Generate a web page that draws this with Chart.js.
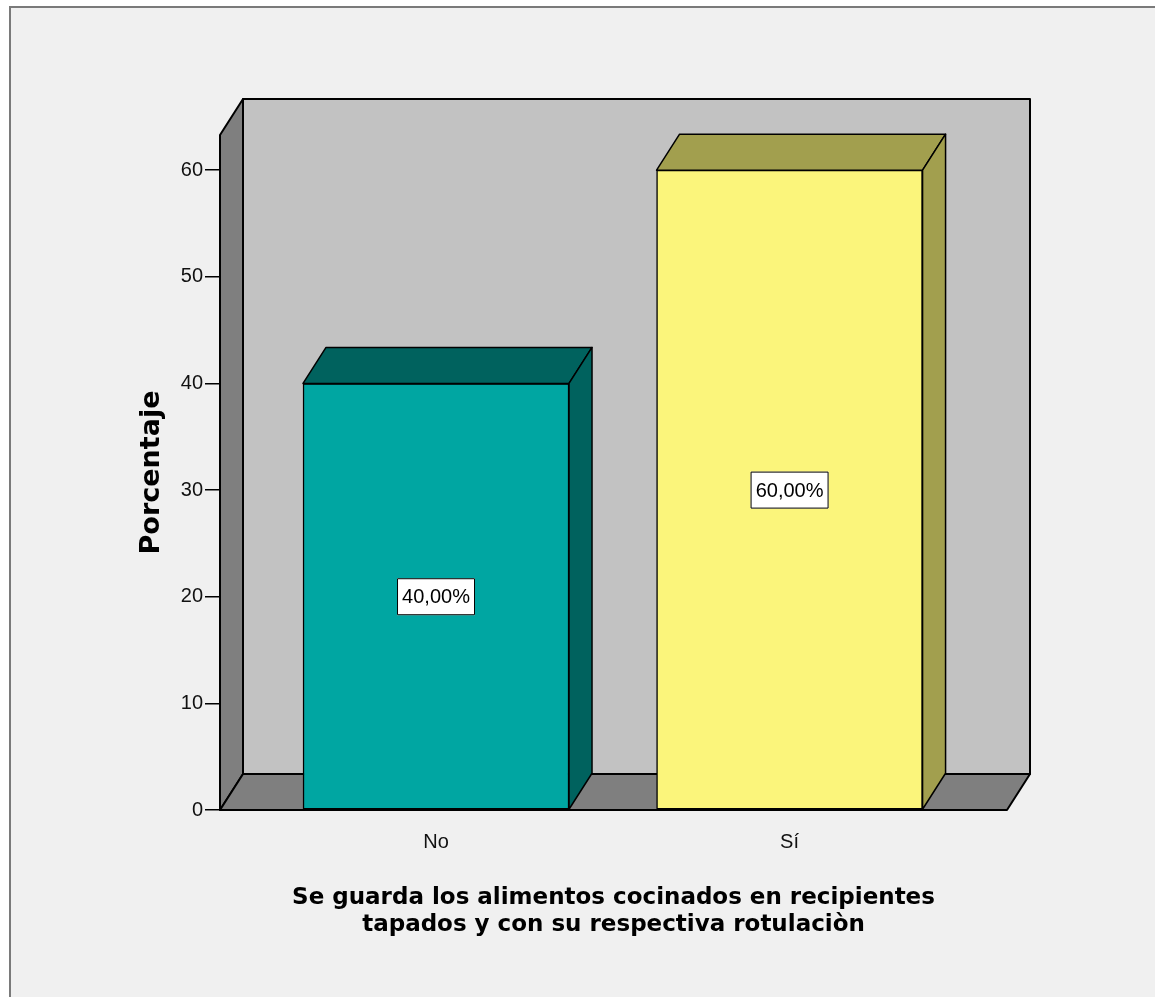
<!DOCTYPE html>
<html>
<head>
<meta charset="utf-8">
<script src="https://cdn.jsdelivr.net/npm/chart.js@4.4.1/dist/chart.umd.min.js"></script>
<style>
  html, body { margin: 0; padding: 0; background: #fff; }
  #wrap { width: 1155px; height: 997px; }
</style>
</head>
<body>
<div id="wrap"><canvas id="chartPct" width="1155" height="997"></canvas></div>
<script>
const categories = ["No", "Sí"];
const percentages = [40, 60];
const yTitle = "Porcentaje";
const xTitle = ["Se guarda los alimentos cocinados en recipientes", "tapados y con su respectiva rotulaciòn"];

const FRONT_COLORS = ["#00a6a2", "#fbf57b"];
const DARK_COLORS = ["#00625e", "#a29f4e"];
const DEPTH_X = 23;
const DEPTH_Y = -36;
const NARROW = "'Liberation Sans Narrow', 'Arial Narrow', 'Liberation Sans', Arial, sans-serif";
const BOLD_TITLE = "'DejaVu Sans', Verdana, sans-serif";

function pctText(v) {
  return v.toFixed(2).replace(".", ",") + "%";
}

function fillPoly(ctx, pts, fill) {
  ctx.beginPath();
  ctx.moveTo(pts[0][0], pts[0][1]);
  for (let i = 1; i < pts.length; i++) ctx.lineTo(pts[i][0], pts[i][1]);
  ctx.closePath();
  ctx.fillStyle = fill;
  ctx.fill();
  ctx.stroke();
}

// page frame behind everything
const framePlugin = {
  id: "frame",
  beforeDraw(chart) {
    const ctx = chart.ctx;
    ctx.save();
    ctx.fillStyle = "#ffffff";
    ctx.fillRect(0, 0, chart.width, chart.height);
    ctx.fillStyle = "#f0f0f0";
    ctx.fillRect(10, 7, chart.width, chart.height);
    ctx.strokeStyle = "#7a7a7a";
    ctx.lineWidth = 2;
    ctx.beginPath();
    ctx.moveTo(10, chart.height);
    ctx.lineTo(10, 7);
    ctx.lineTo(chart.width, 7);
    ctx.stroke();
    ctx.restore();
  },
};

// back wall, side wall and floor of the 3D box
const wallsPlugin = {
  id: "walls",
  beforeDatasetsDraw(chart) {
    const { left, right, top, bottom } = chart.chartArea;
    const ctx = chart.ctx;
    ctx.save();
    ctx.strokeStyle = "#000";
    ctx.lineWidth = 2;
    ctx.lineJoin = "round";
    fillPoly(ctx, [[left + DEPTH_X, top + DEPTH_Y], [right + DEPTH_X, top + DEPTH_Y],
      [right + DEPTH_X, bottom + DEPTH_Y], [left + DEPTH_X, bottom + DEPTH_Y]], "#c2c2c2");
    fillPoly(ctx, [[left, top], [left + DEPTH_X, top + DEPTH_Y],
      [left + DEPTH_X, bottom + DEPTH_Y], [left, bottom]], "#7f7f7f");
    fillPoly(ctx, [[left, bottom], [left + DEPTH_X, bottom + DEPTH_Y],
      [right + DEPTH_X, bottom + DEPTH_Y], [right, bottom]], "#7f7f7f");
    ctx.restore();
  },
};

// top and side faces of the bars, plus the value boxes
const barFacesPlugin = {
  id: "barFaces",
  afterDatasetsDraw(chart) {
    const ctx = chart.ctx;
    const yScale = chart.scales.y;
    const meta = chart.getDatasetMeta(0);
    ctx.save();
    ctx.strokeStyle = "#000";
    ctx.lineWidth = 1.5;
    ctx.lineJoin = "round";
    meta.data.forEach((bar, i) => {
      const { x, y, base, width } = bar.getProps(["x", "y", "base", "width"], true);
      const l = x - width / 2;
      const r = x + width / 2;
      fillPoly(ctx, [[l, y], [l + DEPTH_X, y + DEPTH_Y], [r + DEPTH_X, y + DEPTH_Y], [r, y]], DARK_COLORS[i]);
      fillPoly(ctx, [[r, y], [r + DEPTH_X, y + DEPTH_Y], [r + DEPTH_X, base + DEPTH_Y], [r, base]], DARK_COLORS[i]);
    });
    ctx.font = "20px " + NARROW;
    ctx.textAlign = "center";
    ctx.textBaseline = "middle";
    meta.data.forEach((bar, i) => {
      const cy = yScale.getPixelForValue(percentages[i] / 2);
      const w = 78, h = 37;
      ctx.fillStyle = "#fff";
      ctx.fillRect(bar.x - w / 2, cy - h / 2, w, h);
      ctx.lineWidth = 1;
      ctx.strokeRect(bar.x - w / 2 + 0.5, cy - h / 2 + 0.5, w - 1, h - 1);
      ctx.fillStyle = "#000";
      ctx.fillText(pctText(percentages[i]), bar.x, cy + 1);
    });
    ctx.restore();
  },
};

new Chart(document.getElementById("chartPct"), {
  type: "bar",
  data: {
    datasets: [{
      data: percentages.map((v, i) => ({ x: i, y: v })),
      backgroundColor: FRONT_COLORS,
      borderColor: "#000",
      borderWidth: 1.5,
      borderSkipped: false,
      barThickness: 266,
    }],
  },
  options: {
    responsive: false,
    animation: false,
    layout: { padding: { left: 0, top: 135, right: 148, bottom: 0 } },
    plugins: { legend: { display: false }, tooltip: { enabled: false } },
    scales: {
      x: {
        type: "linear",
        offset: false,
        min: -0.611,
        max: 1.615,
        afterBuildTicks: (s) => { s.ticks = categories.map((c, i) => ({ value: i })); },
        afterFit: (s) => { s.height = 187; },
        ticks: {
          callback: (v) => categories[v],
          color: "#111",
          padding: 20,
          font: { family: NARROW, size: 20 },
        },
        grid: { display: false, drawTicks: false, offset: false },
        border: { display: false },
        title: {
          display: true,
          text: xTitle,
          color: "#000",
          font: { family: BOLD_TITLE, size: 23, weight: "bold", lineHeight: "27px" },
          padding: { top: 0, bottom: 58 },
        },
      },
      y: {
        min: 0,
        max: 63.3,
        afterFit: (s) => { s.width = 220; },
        ticks: {
          stepSize: 10,
          includeBounds: false,
          color: "#111",
          padding: 2,
          font: { family: NARROW, size: 20 },
        },
        grid: { drawOnChartArea: false, drawTicks: true, tickLength: 15, color: "#000", lineWidth: 1.5 },
        border: { display: false },
        title: {
          display: true,
          text: yTitle,
          color: "#000",
          font: { family: BOLD_TITLE, size: 27, weight: "bold", lineHeight: 1.2 },
          padding: { top: 136, bottom: 0 },
        },
      },
    },
  },
  plugins: [framePlugin, wallsPlugin, barFacesPlugin],
});
</script>
</body>
</html>
